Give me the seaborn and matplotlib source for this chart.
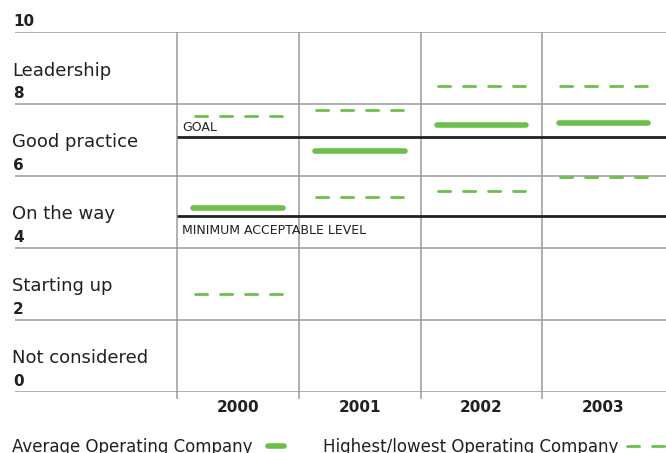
import pandas as pd
import seaborn as sns
import matplotlib.pyplot as plt
from matplotlib.lines import Line2D

# Chart data
years = ["2000", "2001", "2002", "2003"]
average = [5.10, 6.69, 7.41, 7.48]
highest = [7.67, 7.83, 8.49, 8.49]
lowest = [2.71, 5.40, 5.58, 5.96]
goal = 7.08
minimum = 4.88
levels = [0, 2, 4, 6, 8]
level_names = ["Not considered", "Starting up", "On the way", "Good practice", "Leadership"]

green = "#6cc04a"
dark = "#231f20"
grid = "#9b9b9b"
dash = (0, (4.4, 4.6))

# long-form table: one short segment per year and series
rows = []
for i, yr in enumerate(years):
    for name, vals, half in [("avg", average, 0.367), ("high", highest, 0.358), ("low", lowest, 0.358)]:
        for dx in (-half, half):
            rows.append({"x": i + 0.5 + dx, "value": vals[i], "seg": f"{name}-{yr}", "series": name})
df = pd.DataFrame(rows)

sns.set_style("white")
plt.rcParams["font.family"] = ["DejaVu Sans"]

W, H = 666, 453
fig = plt.figure(figsize=(W / 100, H / 100), dpi=100)
# axes spans from the left gridline start to the right edge
ax = fig.add_axes([15 / W, 1 - 391.7 / H, 651 / W, 359.7 / H])
ax.set_xlim((15 - 177.3) / 121.7, (666 - 177.3) / 121.7)
ax.set_ylim(0, 10)
ax.axis("off")

# grid
for v in range(0, 11, 2):
    ax.axhline(v, color=grid, lw=1.1, zorder=1)
ax.vlines(range(len(years)), -0.2, 10, color=grid, lw=1.1, zorder=1, clip_on=False)

# goal / minimum lines
ax.hlines([goal, minimum], 0, 4.1, color=dark, lw=2.0, zorder=2)
ax.text(0.04, goal + 0.17, "GOAL", fontsize=9, color=dark, va="baseline")
ax.text(0.04, minimum - 0.5, "MINIMUM ACCEPTABLE LEVEL", fontsize=9, color=dark, va="baseline")

# series
sns.lineplot(data=df[df.series == "avg"], x="x", y="value", units="seg", estimator=None,
             color=green, lw=4.0, solid_capstyle="round", ax=ax, zorder=3)
sns.lineplot(data=df[df.series != "avg"], x="x", y="value", units="seg", estimator=None,
             color=green, lw=2.0, linestyle=dash, dash_capstyle="round", ax=ax, zorder=3)

# level labels on the left
lx = (12 - 177.3) / 121.7
for lv, nm in zip(levels, level_names):
    ax.text(lx, lv + 0.79, nm, fontsize=13, color=dark, va="baseline")
for lv in levels + [10]:
    ax.text(lx + 0.01, lv + 0.155, str(lv), fontsize=11, fontweight="bold", color=dark, va="baseline")

# year labels
for i, yr in enumerate(years):
    ax.text(i + 0.5, -0.45, yr, fontsize=11, fontweight="bold", color=dark, ha="center", va="center")

# legend along the bottom
fig.text(12 / W, 1 - 452.5 / H, "Average Operating Company", fontsize=12, color=dark, va="baseline")
fig.add_artist(Line2D([268 / W, 284 / W], [1 - 446 / H] * 2, color=green, lw=4.0,
                      solid_capstyle="round"))
fig.text(323 / W, 1 - 452.5 / H, "Highest/lowest Operating Company", fontsize=12, color=dark, va="baseline")
fig.add_artist(Line2D([627 / W, 672 / W], [1 - 446 / H] * 2, color=green, lw=2.0,
                      linestyle=dash, dash_capstyle="round"))

fig.savefig("out.png", dpi=100)
